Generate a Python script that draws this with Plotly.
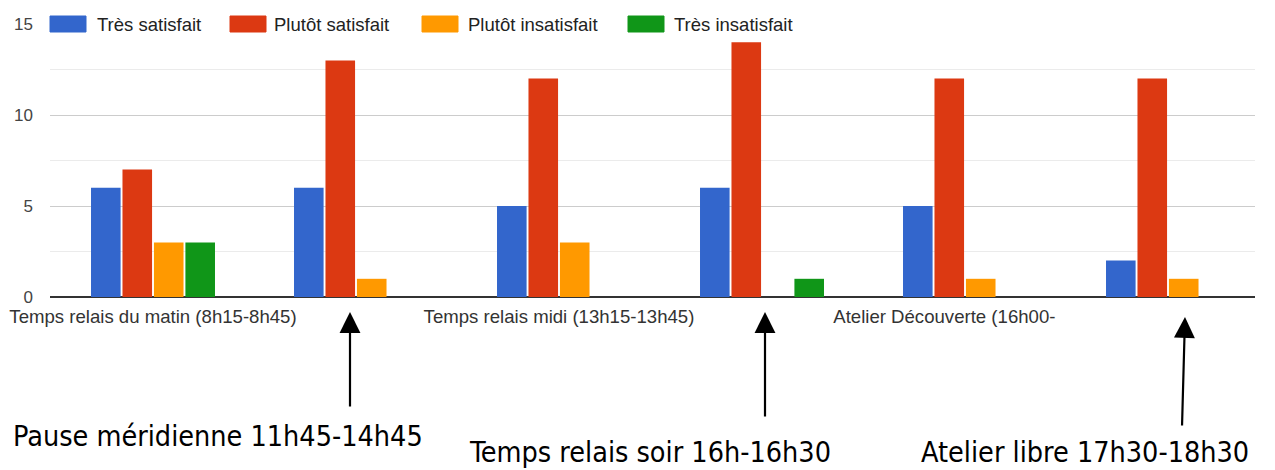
import plotly.graph_objects as go

categories = [
    "Temps relais du matin (8h15-8h45)",
    "Pause méridienne 11h45-14h45",
    "Temps relais midi (13h15-13h45)",
    "Temps relais soir 16h-16h30",
    "Atelier Découverte (16h00-",
    "Atelier libre 17h30-18h30",
]
series_names = ["Très satisfait", "Plutôt satisfait", "Plutôt insatisfait", "Très insatisfait"]
tres_satisfait = [6, 6, 5, 6, 5, 2]
plutot_satisfait = [7, 13, 12, 14, 12, 12]
plutot_insatisfait = [3, 1, 3, 0, 1, 1]
tres_insatisfait = [3, 0, 0, 1, 0, 0]
shown_tick_idx = [0, 2, 4]
callouts = [
    "Pause méridienne 11h45-14h45",
    "Temps relais soir 16h-16h30",
    "Atelier libre 17h30-18h30",
]

colors = ["#3366cc", "#dc3912", "#ff9900", "#109618"]
values = [tres_satisfait, plutot_satisfait, plutot_insatisfait, tres_insatisfait]

OFF = 8  # page body margin
W, H = 1275 - OFF, 470 - OFF
# plot area in reference (page) pixels
L, R, T, B = 50, 1255, 24, 297


def px(x):
    return (x - L) / (R - L)


def py(y):
    return (B - y) / (B - T)


fig = go.Figure()
xs = list(range(len(categories)))
for name, vals, col in zip(series_names, values, colors):
    fig.add_trace(go.Bar(
        x=xs, y=vals, name=name,
        marker=dict(color=col, line=dict(width=0)),
        showlegend=False,
    ))

ticktext = []
for i in shown_tick_idx:
    t = categories[i]
    if i == 4:
        t = t + "\u00a0" * 8
    ticktext.append(t)

font = "Liberation Sans, Arial, sans-serif"

fig.update_layout(
    width=W, height=H,
    margin=dict(l=L - OFF, r=(W + OFF) - R, t=T - OFF, b=(H + OFF) - B, pad=0, autoexpand=False),
    paper_bgcolor="white", plot_bgcolor="white",
    barmode="group", bargap=0.38, bargroupgap=0.06,
    font=dict(family=font, size=17, color="#444"),
    xaxis=dict(
        range=[(L - 153) / 203, (R - 153) / 203],
        tickvals=shown_tick_idx, ticktext=ticktext,
        showgrid=False, zeroline=False, showline=False,
        ticks="", tickfont=dict(size=18.6, color="#333"),
        ticklabelstandoff=6, automargin=False, ticklabeloverflow="allow",
    ),
    yaxis=dict(
        range=[0, 15], dtick=5, tick0=0,
        showgrid=True, gridcolor="#cccccc", gridwidth=1,
        zeroline=True, zerolinecolor="#333333", zerolinewidth=2,
        tickfont=dict(size=17, color="#444"),
        ticklabelstandoff=16, automargin=False,
        minor=dict(dtick=2.5, tick0=0, showgrid=True, gridcolor="#ebebeb", gridwidth=1),
    ),
)

# Legend drawn at the top gridline (Google Charts style)
legend_swatch_x = [50, 230, 422, 628]
legend_text_x = [96, 273, 467, 673]
for name, col, sx, tx in zip(series_names, colors, legend_swatch_x, legend_text_x):
    fig.add_shape(type="rect", xref="paper", yref="paper",
                  x0=px(sx), x1=px(sx + 36), y0=py(32), y1=py(16),
                  fillcolor=col, line=dict(color=col, width=1), layer="above")
    fig.add_annotation(text=name, xref="paper", yref="paper",
                       x=px(tx), y=py(24), xanchor="left", yanchor="middle",
                       showarrow=False, bgcolor="white", borderpad=0,
                       font=dict(family=font, size=18.5, color="#222"))

# Arrows and callout labels for categories without visible tick labels
arrows = [((350, 408), (350, 312)), ((765, 418), (765, 312)), ((1182, 427), (1185, 317))]
for (xb, yb), (xt, yt) in arrows:
    fig.add_annotation(x=px(xt), y=py(yt), xref="paper", yref="paper",
                       ax=xb - xt, ay=yb - yt, axref="pixel", ayref="pixel",
                       text="", showarrow=True, arrowhead=2, arrowsize=1.9,
                       arrowwidth=2.2, arrowcolor="black")

callout_pos = [(11, 436), (467, 452), (919, 452)]
cfont = "Liberation Sans Narrow, DejaVu Sans Condensed, Roboto, sans-serif"
for txt, (cx, cy) in zip(callouts, callout_pos):
    fig.add_annotation(text=txt, xref="paper", yref="paper",
                       x=px(cx), y=py(cy), xanchor="left", yanchor="middle",
                       showarrow=False, font=dict(family=cfont, size=28.5, color="black"))

fig.write_html("out.html")
